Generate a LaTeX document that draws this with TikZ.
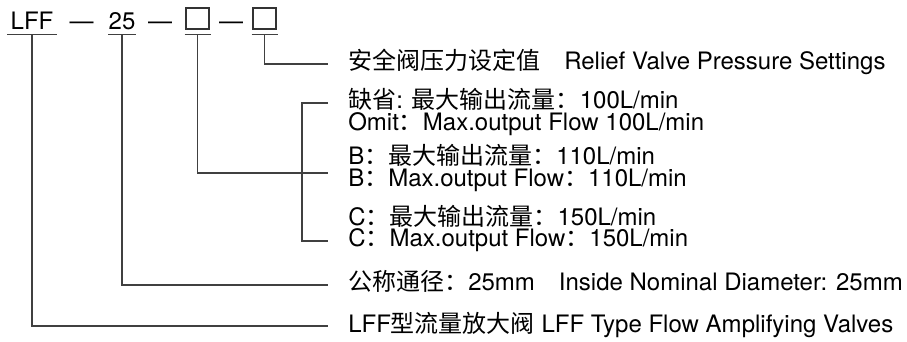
\documentclass[tikz,border=0pt]{standalone}
\usepackage{fontspec}
\setmainfont{TeX Gyre Heros}
\newfontfamily\cjk{Noto Sans CJK SC}
\newcommand{\zh}[1]{{\cjk #1}}

\begin{document}
\begin{tikzpicture}[
x=0.75pt, y=-0.75pt,
font=\fontsize{18pt}{20pt}\selectfont,
part/.style={anchor=base, inner xsep=2.4pt, inner ysep=3.4pt, text depth=0pt},
slot/.style={draw=black!80, line width=0.8pt, minimum width=17.25pt, minimum height=15.75pt, inner sep=0pt},
note/.style={anchor=west, inner xsep=15pt, inner ysep=0pt, text height=12pt, text depth=3pt},
leader/.style={draw=black!75, line width=0.9pt} ]

\useasboundingbox (0,0) rectangle (907,342);

\node[part] (lff) at (32,29.5) {LFF};

\node[part] (d1) at (81.5,29.5) {—};

\node[part, inner xsep=0pt] (n25) at (122,29.5) {25};

\node[part] (d2) at (160,29.5) {—};

\node[slot] (s1) at (197.5,18.5) {};

\node[part] (d3) at (231,29.5) {—};

\node[slot] (s2) at (264.5,18.5) {};

\coordinate (s1u) at ([yshift=-3.75pt]s1.south);

\coordinate (s2u) at ([yshift=-3.75pt]s2.south);

\node[note] (valve) at (328,64) {\zh{安全阀压力设定值　}Relief Valve Pressure Settings};

\node[note] (qs) at (328,103) {\zh{缺省}: \zh{最大输出流量：}100L/min};

\node[note] (omit) at (328,125) {Omit\zh{：}Max.output Flow 100L/min};

\node[note] (bcn) at (328,159) {B\zh{：最大输出流量：}110L/min};

\node[note] (bmax) at (328,181) {B\zh{：}Max.output Flow\zh{：}110L/min};

\node[note] (ccn) at (328,220) {C\zh{：最大输出流量：}150L/min};

\node[note] (cmax) at (328,241) {C\zh{：}Max.output Flow\zh{：}150L/min};

\node[note] (gc) at (328,285) {\zh{公称通径：}25mm\zh{　}Inside Nominal Diameter: 25mm};

\node[note] (lffx) at (328,326) {LFF\zh{型流量放大阀} LFF Type Flow Amplifying Valves};

\draw[leader] (lff.south west) -- (lff.south east);

\draw[leader] (n25.south west) -- (n25.south east);

\draw[leader] (s1u) +(-13,0) -- +(13,0);

\draw[leader] (s2u) +(-13,0) -- +(13,0);

\draw[leader] (s2u) |- (valve.west);

\draw[leader] (qs.west) -- ++(-26,0) |- (cmax.west);

\draw[leader] (s1u) |- ([yshift=6pt]bmax.west);

\draw[leader] (n25.south) |- (gc.west);

\draw[leader] (lff.south) |- (lffx.west);

\end{tikzpicture}
\end{document}
